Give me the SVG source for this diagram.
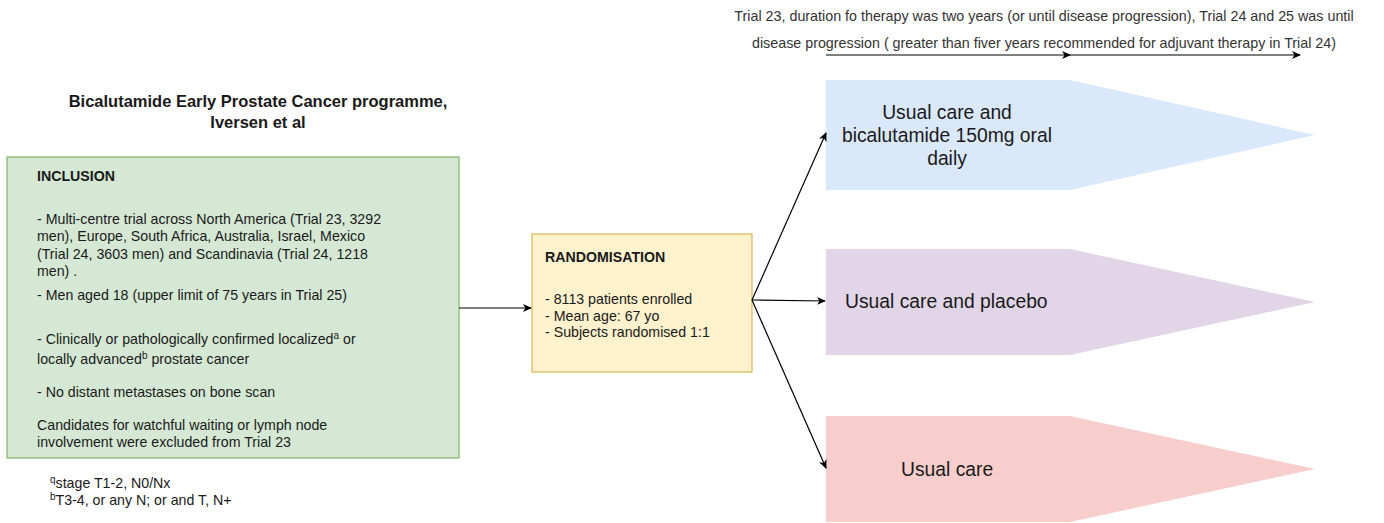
<svg xmlns="http://www.w3.org/2000/svg" width="1384" height="523" viewBox="0 0 1384 523">
<defs>
<style>
text{font-family:"Liberation Sans",Arial,sans-serif;fill:#1a1a1a}
.t{font-size:14.2px}
.b{font-weight:bold}
.big{font-size:19.3px}
.top{font-size:14.3px;fill:#333}
.c{stroke:#000;stroke-width:1.2;fill:none}
</style>
<marker id="ah" markerWidth="10" markerHeight="10" refX="8" refY="5" orient="auto" markerUnits="userSpaceOnUse">
<path d="M0,1 L9,5 L0,9 L2.5,5 Z" fill="#000"/>
</marker>
</defs>
<rect width="1384" height="523" fill="#fff"/>
<g id="title">
<text x="258" y="107" text-anchor="middle" font-size="16.5" class="b">Bicalutamide Early Prostate Cancer programme,</text>
<text x="258" y="128" text-anchor="middle" font-size="16.5" class="b">Iversen et al</text>
</g>
<g id="topnote">
<text class="top" x="1044" y="21" text-anchor="middle">Trial 23, duration fo therapy was two years (or until disease progression), Trial 24 and 25 was until</text>
<text class="top" x="1044" y="48" text-anchor="middle">disease progression ( greater than fiver years recommended for adjuvant therapy in Trial 24)</text>
</g>
<g id="inclusion">
<rect x="7" y="157" width="452" height="301" fill="#d5e8d4" stroke="#82b366" stroke-width="1.2"/>
<text class="t b" x="37" y="181">INCLUSION</text>
<text class="t" x="37" y="224">- Multi-centre trial across North America (Trial 23, 3292</text>
<text class="t" x="37" y="241">men), Europe, South Africa, Australia, Israel, Mexico</text>
<text class="t" x="37" y="259">(Trial 24, 3603 men) and Scandinavia (Trial 24, 1218</text>
<text class="t" x="37" y="276">men) .</text>
<text class="t" x="37" y="300">- Men aged 18 (upper limit of 75 years in Trial 25)</text>
<text class="t" x="37" y="344">- Clinically or pathologically confirmed localized<tspan font-size="10" dy="-5">a</tspan><tspan dy="5"> or</tspan></text>
<text class="t" x="37" y="364">locally advanced<tspan font-size="10" dy="-5">b</tspan><tspan dy="5"> prostate cancer</tspan></text>
<text class="t" x="37" y="397">- No distant metastases on bone scan</text>
<text class="t" x="37" y="430">Candidates for watchful waiting or lymph node</text>
<text class="t" x="37" y="447">involvement were excluded from Trial 23</text>
</g>
<g id="footnotes">
<text class="t" x="50" y="488"><tspan font-size="10" dy="-5">q</tspan><tspan dy="5">stage T1-2, N0/Nx</tspan></text>
<text class="t" x="50" y="505"><tspan font-size="10" dy="-5">b</tspan><tspan dy="5">T3-4, or any N; or and T, N+</tspan></text>
</g>
<g id="randomisation">
<rect x="532" y="234" width="220" height="138" fill="#fff2cc" stroke="#d6b656" stroke-width="1.2"/>
<text class="t b" x="545" y="262">RANDOMISATION</text>
<text class="t" x="545" y="304">- 8113 patients enrolled</text>
<text class="t" x="545" y="321">- Mean age: 67 yo</text>
<text class="t" x="545" y="337">- Subjects randomised 1:1</text>
</g>
<g id="arm1">
<polygon points="826,80 1070,80 1315,135 1070,190 826,190" fill="#dae8fc"/>
<text class="big" x="947" y="119" text-anchor="middle">Usual care and</text>
<text class="big" x="947" y="142" text-anchor="middle">bicalutamide 150mg oral</text>
<text class="big" x="947" y="165" text-anchor="middle">daily</text>
</g>
<g id="arm2">
<polygon points="826,249 1070,249 1315,302 1070,355 826,355" fill="#e1d5e7"/>
<text class="big" x="845" y="308">Usual care and placebo</text>
</g>
<g id="arm3">
<polygon points="826,416 1070,416 1315,469 1070,522 826,522" fill="#f8cecc"/>
<text class="big" x="901" y="476">Usual care</text>
</g>
<g id="connectors">
<line class="c" x1="459" y1="308" x2="531" y2="308" marker-end="url(#ah)"/>
<line class="c" x1="752" y1="300" x2="826" y2="133" marker-end="url(#ah)"/>
<line class="c" x1="752" y1="300" x2="825" y2="301" marker-end="url(#ah)"/>
<line class="c" x1="752" y1="300" x2="826" y2="468" marker-end="url(#ah)"/>
<line class="c" x1="826" y1="55" x2="1070" y2="55" marker-end="url(#ah)"/>
<line class="c" x1="1070" y1="55" x2="1300" y2="55" marker-end="url(#ah)"/>
</g>
</svg>
